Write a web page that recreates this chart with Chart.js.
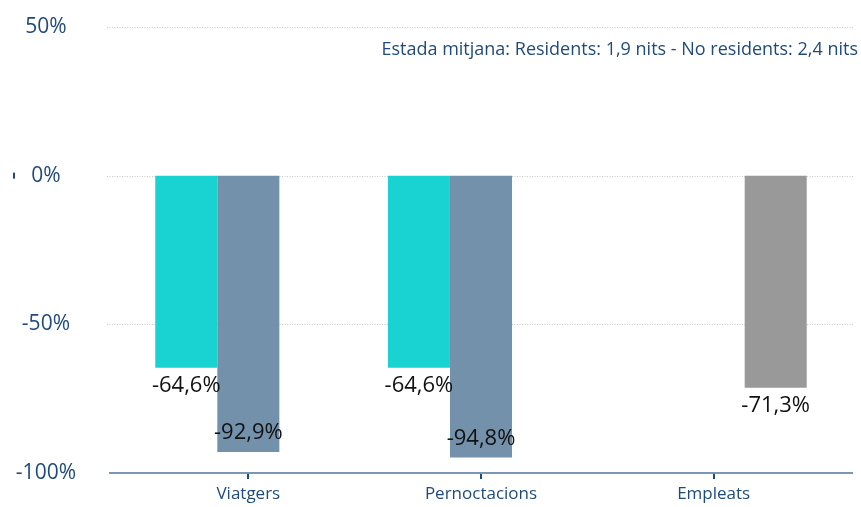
<!DOCTYPE html>
<html>
<head>
<meta charset="utf-8">
<script src="https://cdn.jsdelivr.net/npm/chart.js@4"></script>
<style>
  html, body { margin: 0; padding: 0; background: #fff; }
  #wrap { width: 861px; height: 507px; }
</style>
</head>
<body>
<div id="wrap"><canvas id="grafic"></canvas></div>
<script>
// dades del gràfic
const categories = ['Viatgers', 'Pernoctacions', 'Empleats'];
const residents = [-64.6, -64.6, null];
const noResidents = [-92.9, -94.8, null];
const totalEmpleats = [null, null, -71.3];
const yTicks = [50, 0, -50, -100];
const nota = 'Estada mitjana: Residents: 1,9 nits - No residents: 2,4 nits';

const blauText = '#1f4b7b';
const fontFam = "'Open Sans', 'Noto Sans', sans-serif";

// graella puntejada, línia d'eix i nota
const graellaPlugin = {
    id: 'graella',
    beforeDatasetsDraw(chart) {
        const ctx = chart.ctx;
        const y = chart.scales.y;
        ctx.save();
        ctx.strokeStyle = '#c8c8c8';
        ctx.lineWidth = 1;
        ctx.setLineDash([1, 1.5]);
        yTicks.forEach(t => {
            if (t === y.min) return;
            const py = Math.round(y.getPixelForValue(t)) + 0.5;
            ctx.beginPath();
            ctx.moveTo(107, py);
            ctx.lineTo(853, py);
            ctx.stroke();
        });
        ctx.restore();
    },
    afterDatasetsDraw(chart) {
        const ctx = chart.ctx;
        const y = chart.scales.y;
        ctx.save();
        // línia de l'eix a -100%
        const pb = y.getPixelForValue(y.min);
        ctx.strokeStyle = '#7d97b3';
        ctx.lineWidth = 2;
        ctx.beginPath();
        ctx.moveTo(109, pb);
        ctx.lineTo(853, pb);
        ctx.stroke();
        // petita marca a l'esquerra del 0%
        ctx.fillStyle = blauText;
        const p0 = y.getPixelForValue(0);
        ctx.fillRect(13, p0 - 3, 2, 6);

        // etiquetes de valors
        ctx.font = '22px ' + fontFam;
        ctx.fillStyle = '#111';
        ctx.textAlign = 'center';
        ctx.textBaseline = 'middle';
        chart.data.datasets.forEach((ds, i) => {
            const meta = chart.getDatasetMeta(i);
            meta.data.forEach((bar, j) => {
                const v = ds.data[j];
                if (v === null || v === undefined) return;
                let ly = bar.y + 18;
                if (ly + 10 > chart.chartArea.bottom) ly = bar.y - 19;
                ctx.fillText(v.toFixed(1).replace('.', ',') + '%', bar.x, ly);
            });
        });

        // nota
        ctx.font = '18px ' + fontFam;
        ctx.fillStyle = blauText;
        ctx.textAlign = 'right';
        ctx.fillText(nota, 858, 50);
        ctx.restore();
    }
};

new Chart(document.getElementById('grafic'), {
    type: 'bar',
    data: {
        labels: categories,
        datasets: [
            { label: 'Residents', data: residents, backgroundColor: '#19d3d3' },
            { label: 'No residents', data: noResidents, backgroundColor: '#7491ab' },
            { label: 'Empleats', data: totalEmpleats, backgroundColor: '#999999' }
        ]
    },
    options: {
        responsive: true,
        maintainAspectRatio: false,
        animation: false,
        datasets: { bar: { categoryPercentage: 0.8, barPercentage: 1 } },
        layout: { padding: { top: 27, right: 31, bottom: 0, left: 0 } },
        plugins: { legend: { display: false }, tooltip: { enabled: false } },
        scales: {
            x: {
                grid: { drawOnChartArea: false, drawTicks: true, tickLength: 6, offset: false, color: blauText, lineWidth: 2 },
                border: { display: false },
                ticks: { color: blauText, font: { family: fontFam, size: 17 }, padding: 5 },
                afterFit: s => { s.height = 34; s.paddingLeft = 0; s.paddingRight = 0; }
            },
            y: {
                min: -100,
                max: 50,
                afterBuildTicks: s => { s.ticks = yTicks.map(v => ({ value: v })); },
                grid: { display: false, drawTicks: false },
                border: { display: false },
                ticks: {
                    color: blauText,
                    font: { family: fontFam, size: 21 },
                    crossAlign: 'center',
                    padding: 56,
                    callback: v => v + '%'
                },
                afterFit: s => { s.width = 132; s.paddingTop = 0; s.paddingBottom = 0; }
            }
        }
    },
    plugins: [graellaPlugin]
});
</script>
</body>
</html>
